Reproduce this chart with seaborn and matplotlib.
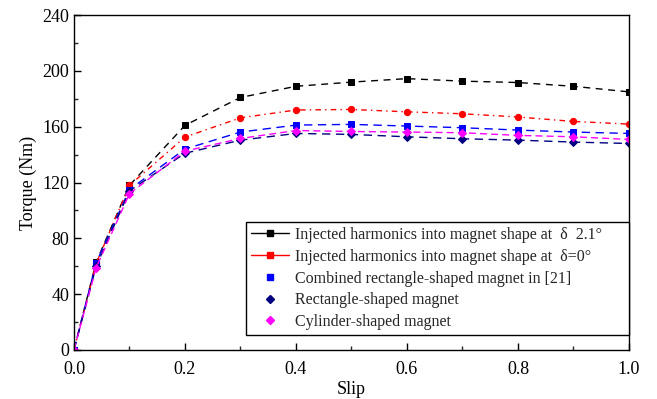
import matplotlib
matplotlib.use("Agg")
import matplotlib.pyplot as plt
from matplotlib.lines import Line2D
from matplotlib.ticker import MultipleLocator
import seaborn as sns
import pandas as pd

slip = [0.0, 0.04, 0.1, 0.2, 0.3, 0.4, 0.5, 0.6, 0.7, 0.8, 0.9, 1.0]
torque_inj_21 = [0, 63, 118, 161, 181, 189, 192, 194.5, 192.7, 191.7, 189, 185]
torque_inj_0 = [0, 62, 118, 152.6, 166.4, 172, 172.4, 170.7, 169.3, 167, 163.8, 161.9]
torque_combined = [0, 62.5, 115, 144, 156.2, 161.2, 161.7, 160.5, 159.3, 157.6, 156.2, 155.2]
torque_rect = [0, 60, 114, 141, 150.4, 155.2, 154.5, 152.8, 151.4, 150.4, 149, 148]
torque_cyl = [0, 59, 112, 142.5, 151.6, 157.3, 156.6, 156.2, 155.7, 153.8, 152.8, 150.9]

labels = [
    "Injected harmonics into magnet shape at  \u03b4  2.1\u00b0",
    "Injected harmonics into magnet shape at  \u03b4=0\u00b0",
    "Combined rectangle-shaped magnet in [21]",
    "Rectangle-shaped magnet",
    "Cylinder-shaped magnet",
]

sns.set_theme(style="ticks")
plt.rcParams["font.family"] = ["Liberation Serif", "DejaVu Serif"]

fig = plt.figure(figsize=(6.57, 3.99), dpi=100)
ax = fig.add_axes([0.1126, 0.123, 0.8447, 0.839])

series = [
    (torque_inj_21, "black", "s", (5, 4)),
    (torque_inj_0, "red", "o", (4, 3, 1, 3)),
    (torque_combined, "blue", "s", (6, 4)),
    (torque_rect, "navy", "D", (6, 4)),
    (torque_cyl, "magenta", "D", (5, 3)),
]

for vals, color, marker, dash in series:
    df = pd.DataFrame({"Slip": slip, "Torque": vals})
    sns.lineplot(data=df, x="Slip", y="Torque", ax=ax, color=color,
                 linewidth=1.0, marker=marker, markersize=4.5,
                 markeredgecolor=color, dashes=dash)
    ax.lines[-1].set_dashes(dash)

ax.set_xlim(0, 1.0)
ax.set_ylim(0, 240)
ax.xaxis.set_major_locator(MultipleLocator(0.2))
ax.xaxis.set_minor_locator(MultipleLocator(0.1))
ax.yaxis.set_major_locator(MultipleLocator(40))
ax.yaxis.set_minor_locator(MultipleLocator(20))
ax.xaxis.set_major_formatter(matplotlib.ticker.FormatStrFormatter("%.1f"))
ax.tick_params(axis="both", which="major", direction="in", length=5, width=1,
               labelsize=13, colors="black", top=False, right=False)
ax.tick_params(axis="x", which="major", pad=8)
ax.tick_params(axis="both", which="minor", direction="in", length=3, width=1,
               top=False, right=False)
for s in ax.spines.values():
    s.set_color("black")
    s.set_linewidth(1.0)
ax.set_xlabel("Slip", fontsize=13, color="black", labelpad=2)
ax.set_ylabel("Torque (Nm)", fontsize=13, color="black")

handles = [
    Line2D([], [], color="black", marker="s", markersize=4.5, linewidth=1),
    Line2D([], [], color="red", marker="s", markersize=4.5, linewidth=1),
    Line2D([], [], color="blue", marker="s", markersize=4.5, linestyle="none"),
    Line2D([], [], color="navy", marker="D", markersize=4.5, linestyle="none"),
    Line2D([], [], color="magenta", marker="D", markersize=4.5, linestyle="none"),
]
leg = ax.legend(handles, labels, loc="lower left",
                bbox_to_anchor=(0.31, 0.045, 0.69, 0.34), mode="expand",
                borderaxespad=0, fontsize=11.5, frameon=True, fancybox=False,
                edgecolor="black", framealpha=1, handlelength=2.4,
                handletextpad=0.35, labelspacing=0.36, borderpad=0.3)
leg.get_frame().set_linewidth(1.0)

fig.savefig("out.png", dpi=100)
